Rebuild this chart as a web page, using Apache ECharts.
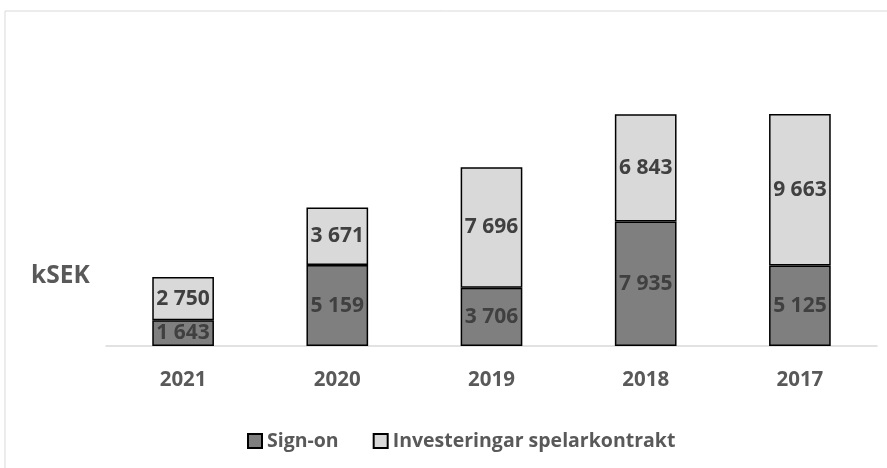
<!DOCTYPE html>
<html>
<head>
<meta charset="utf-8">
<script src="https://cdn.jsdelivr.net/npm/echarts@6/dist/echarts.min.js"></script>
<style>
  html, body { margin: 0; padding: 0; background: #fff; }
  #main { width: 887px; height: 468px; }
</style>
</head>
<body>
<div id="main"></div>
<script>
// data
var years = ['2021', '2020', '2019', '2018', '2017'];
var signOn = [1643, 5159, 3706, 7935, 5125];
var investeringar = [2750, 3671, 7696, 6843, 9663];

var FONT = '"Open Sans"';

function fmt(p) {
    return String(p.value).replace(/\B(?=(\d{3})+(?!\d))/g, ' ');
}

try {
    var chart = echarts.init(document.getElementById('main'));
    chart.setOption({
        animation: false,
        grid: { left: 106, right: 10, top: 95, bottom: 122 },
        graphic: [
            {
                type: 'rect',
                shape: { x: 5, y: 11, width: 900, height: 480 },
                style: { fill: 'none', stroke: '#d9d9d9', lineWidth: 1 }
            },
            {
                type: 'text',
                left: 31,
                top: 264,
                style: { text: 'kSEK', fill: '#595959', font: 'bold 24.5px ' + FONT }
            }
        ],
        legend: {
            left: 242,
            top: 426,
            icon: 'rect',
            itemWidth: 14,
            itemHeight: 14,
            itemGap: 34,
            textStyle: { color: '#595959', fontFamily: FONT, fontWeight: 'bold', fontSize: 19.5 },
            data: ['Sign-on', 'Investeringar spelarkontrakt']
        },
        xAxis: {
            type: 'category',
            data: years,
            axisTick: { show: false },
            axisLine: { lineStyle: { color: '#d9d9d9', width: 1.5 } },
            axisLabel: { margin: 24, color: '#595959', fontFamily: FONT, fontWeight: 'bold', fontSize: 20.5 }
        },
        yAxis: { type: 'value', min: 0, max: 16000, show: false },
        series: [
            {
                name: 'Sign-on',
                type: 'bar',
                stack: 'tot',
                barWidth: '40%',
                data: signOn,
                itemStyle: { color: '#7f7f7f', borderColor: '#000', borderWidth: 1.5 },
                label: { show: true, position: 'inside', formatter: fmt, color: '#404040', fontFamily: FONT, fontWeight: 'bold', fontSize: 21 }
            },
            {
                name: 'Investeringar spelarkontrakt',
                type: 'bar',
                stack: 'tot',
                data: investeringar,
                itemStyle: { color: '#d9d9d9', borderColor: '#000', borderWidth: 1.5 },
                label: { show: true, position: 'inside', formatter: fmt, color: '#404040', fontFamily: FONT, fontWeight: 'bold', fontSize: 21 }
            }
        ]
    });
} catch (e) {
    console.log(e);
}
</script>
</body>
</html>
